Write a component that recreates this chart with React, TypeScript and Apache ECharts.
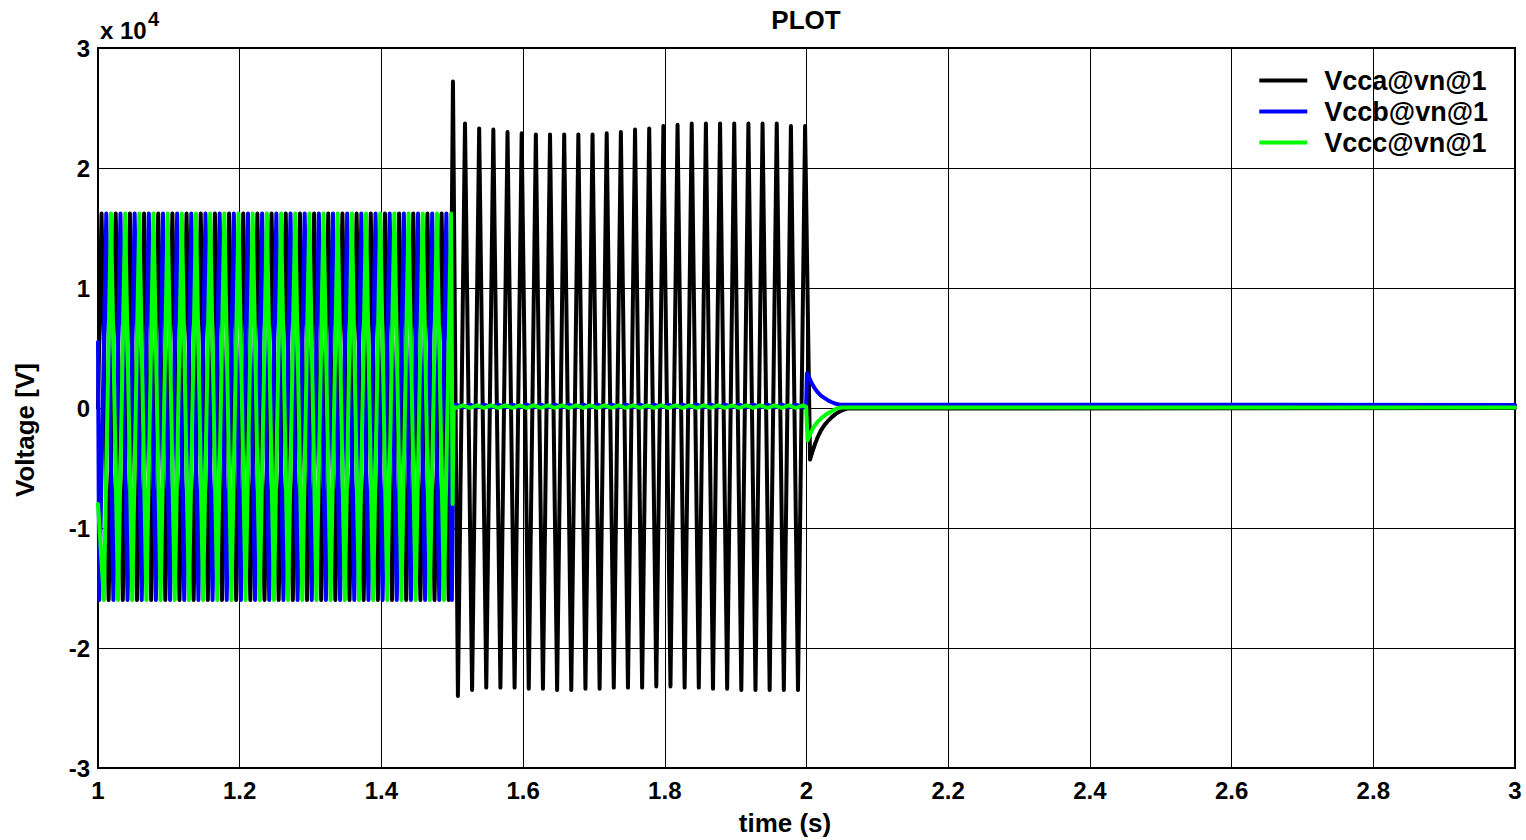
import React, { useEffect, useRef } from "react";
import * as echarts from "echarts";

// Half-cycle spacing of the 50 Hz extremes (s)
const HALF = 0.01;

// Tick labels
const xTicks = [1, 1.2, 1.4, 1.6, 1.8, 2, 2.2, 2.4, 2.6, 2.8, 3];
const yTicks = [-3, -2, -1, 0, 1, 2, 3];

const names = ["Vcca@vn@1", "Vccb@vn@1", "Vccc@vn@1"];
const colors = ["#000000", "#0000ff", "#00ff00"];

// ---- Segment 1 (1.0 – 1.5 s): clipped extremes of each phase ----
const vccaSeg1Start = 1.005;
const vccaSeg1 = [
  16200, -16000, 16200, -16000, 16200, -16000, 16200, -16000, 16200, -16000,
  16200, -16000, 16200, -16000, 16200, -16000, 16200, -16000, 16200, -16000,
  16200, -16000, 16200, -16000, 16200, -16000, 16200, -16000, 16200, -16000,
  16200, -16000, 16200, -16000, 16200, -16000, 16200, -16000, 16200, -16000,
  16200, -16000, 16200, -16000, 16200, -16000, 16200, -16000, 16200, -16000,
];
const vccbSeg1Start = 1.0017;
const vccbSeg1 = [
  -16000, 16200, -16000, 16200, -16000, 16200, -16000, 16200, -16000, 16200,
  -16000, 16200, -16000, 16200, -16000, 16200, -16000, 16200, -16000, 16200,
  -16000, 16200, -16000, 16200, -16000, 16200, -16000, 16200, -16000, 16200,
  -16000, 16200, -16000, 16200, -16000, 16200, -16000, 16200, -16000, 16200,
  -16000, 16200, -16000, 16200, -16000, 16200, -16000, 16200, -16000, 16200,
];
const vcccSeg1Start = 1.0083;
const vcccSeg1 = [
  -16000, 16200, -16000, 16200, -16000, 16200, -16000, 16200, -16000, 16200,
  -16000, 16200, -16000, 16200, -16000, 16200, -16000, 16200, -16000, 16200,
  -16000, 16200, -16000, 16200, -16000, 16200, -16000, 16200, -16000, 16200,
  -16000, 16200, -16000, 16200, -16000, 16200, -16000, 16200, -16000, 16200,
  -16000, 16200, -16000, 16200, -16000, 16200, -16000, 16200, -16000, 16200,
];

// ---- Transition points around 1.5 s ----
const vccaStart: [number, number][] = [[1.0, 0]];
const vccbStart: [number, number][] = [[1.0, 5500]];
const vcccStart: [number, number][] = [[1.0, -8000]];
const vccaAt15: [number, number][] = [[1.501, 27200]];
const vccbAt15: [number, number][] = [[1.4995, -16000], [1.5015, 200]];
const vcccAt15: [number, number][] = [[1.5005, -8000], [1.502, 100]];

// ---- Segment 2 (1.5 – 2.0 s) ----
const vccaSeg2Start = 1.508;
const vccaSeg2 = [
  -24000, 23700, -23500, 23300, -23300, 23200, -23300, 23000, -23300, 22900,
  -23400, 22800, -23400, 22800, -23500, 22800, -23500, 22800, -23400, 22800,
  -23400, 22900, -23300, 23000, -23300, 23200, -23300, 23300, -23200, 23500,
  -23200, 23600, -23300, 23700, -23300, 23700, -23400, 23700, -23400, 23700,
  -23500, 23700, -23500, 23700, -23500, 23700, -23500, 23500, -23500, 23500,
];
const rippleStart = 1.505;
const vccbSeg2 = [
  280, 60, 280, 60, 280, 60, 280, 60, 280, 60,
  280, 60, 280, 60, 280, 60, 280, 60, 280, 60,
  280, 60, 280, 60, 280, 60, 280, 60, 280, 60,
  280, 60, 280, 60, 280, 60, 280, 60, 280, 60,
  280, 60, 280, 60, 280, 60, 280, 60, 280, 60,
];
const vcccSeg2 = [
  0, 220, 0, 220, 0, 220, 0, 220, 0, 220,
  0, 220, 0, 220, 0, 220, 0, 220, 0, 220,
  0, 220, 0, 220, 0, 220, 0, 220, 0, 220,
  0, 220, 0, 220, 0, 220, 0, 220, 0, 220,
  0, 220, 0, 220, 0, 220, 0, 220, 0, 220,
];

// ---- After 2.0 s: decay to zero ----
const vccaTail: [number, number][] = [
  [2.005, -4300], [2.008, -3700], [2.012, -3000], [2.016, -2400], [2.02, -1900],
  [2.025, -1450], [2.03, -1100], [2.035, -800], [2.04, -550], [2.045, -350],
  [2.05, -200], [2.057, -50], [3.0, 0],
];
const vccbTail: [number, number][] = [
  [1.9995, 250], [2.0005, 2900], [2.004, 2500], [2.008, 2000], [2.012, 1600],
  [2.016, 1300], [2.02, 1050], [2.025, 850], [2.03, 650], [2.035, 500],
  [2.04, 380], [2.047, 280], [3.0, 250],
];
const vcccTail: [number, number][] = [
  [1.9995, 100], [2.0015, -2700], [2.005, -2200], [2.01, -1600], [2.015, -1200],
  [2.02, -900], [2.025, -650], [2.03, -450], [2.035, -300], [2.04, -120],
  [2.045, 0], [2.05, 40], [3.0, 50],
];

function extremes(t0: number, values: number[]): [number, number][] {
  return values.map((v, i) => [+(t0 + HALF * i).toFixed(4), v]);
}

const vccaData = [
  ...vccaStart,
  ...extremes(vccaSeg1Start, vccaSeg1),
  ...vccaAt15,
  ...extremes(vccaSeg2Start, vccaSeg2),
  ...vccaTail,
];
const vccbData = [
  ...vccbStart,
  ...extremes(vccbSeg1Start, vccbSeg1),
  ...vccbAt15,
  ...extremes(rippleStart, vccbSeg2),
  ...vccbTail,
];
const vcccData = [
  ...vcccStart,
  ...extremes(vcccSeg1Start, vcccSeg1),
  ...vcccAt15,
  ...extremes(rippleStart, vcccSeg2),
  ...vcccTail,
];
const seriesData = [vccaData, vccbData, vcccData];

const FONT = "'Liberation Sans', Arial, sans-serif";

export default function App() {
  const ref = useRef<HTMLDivElement>(null);
  useEffect(() => {
    if (!ref.current) return;
    const chart = echarts.init(ref.current, null, { renderer: "svg" });
    chart.setOption({
      animation: false,
      backgroundColor: "#ffffff",
      grid: {
        left: 98,
        right: 11,
        top: 48,
        bottom: 72,
        show: true,
        borderColor: "#000",
        borderWidth: 2,
        backgroundColor: "transparent",
      },
      xAxis: {
        type: "value",
        min: xTicks[0],
        max: xTicks[xTicks.length - 1],
        interval: 0.2,
        axisLine: { show: false },
        axisTick: { show: false },
        splitLine: { show: true, lineStyle: { color: "#000", width: 1 } },
        axisLabel: {
          color: "#000",
          fontFamily: FONT,
          fontWeight: "bold",
          fontSize: 24,
          margin: 10,
          formatter: (v: number) => String(+v.toFixed(1)),
        },
      },
      yAxis: {
        type: "value",
        min: yTicks[0] * 10000,
        max: yTicks[yTicks.length - 1] * 10000,
        interval: 10000,
        axisLine: { show: false },
        axisTick: { show: false },
        splitLine: { show: true, lineStyle: { color: "#000", width: 1 } },
        axisLabel: {
          color: "#000",
          fontFamily: FONT,
          fontWeight: "bold",
          fontSize: 24,
          margin: 8,
          formatter: (v: number) => String(Math.round(v / 10000)),
        },
      },
      legend: {
        orient: "vertical",
        right: 33,
        top: 62,
        icon: "rect",
        itemWidth: 48,
        itemHeight: 4,
        itemGap: 4,
        textStyle: {
          color: "#000",
          fontFamily: FONT,
          fontWeight: "bold",
          fontSize: 27,
          lineHeight: 27,
          padding: [0, 0, 0, 12],
        },
        data: names,
      },
      graphic: [
        {
          type: "text",
          x: 806,
          y: 20,
          style: {
            text: "PLOT",
            fill: "#000",
            font: `bold 26px ${FONT}`,
            align: "center",
            verticalAlign: "middle",
          },
        },
        {
          type: "text",
          x: 785,
          y: 823,
          style: {
            text: "time (s)",
            fill: "#000",
            font: `bold 26px ${FONT}`,
            align: "center",
            verticalAlign: "middle",
          },
        },
        {
          type: "text",
          x: 25,
          y: 430,
          rotation: Math.PI / 2,
          style: {
            text: "Voltage [V]",
            fill: "#000",
            font: `bold 26px ${FONT}`,
            align: "center",
            verticalAlign: "middle",
          },
        },
        {
          type: "text",
          x: 100,
          y: 30,
          style: {
            text: "x 10",
            fill: "#000",
            font: `bold 24px ${FONT}`,
            align: "left",
            verticalAlign: "middle",
          },
        },
        {
          type: "text",
          x: 148,
          y: 19,
          style: {
            text: "4",
            fill: "#000",
            font: `bold 20px ${FONT}`,
            align: "left",
            verticalAlign: "middle",
          },
        },
      ],
      series: names.map((name, i) => ({
        name,
        type: "line",
        data: seriesData[i],
        showSymbol: false,
        symbol: "none",
        color: colors[i],
        itemStyle: { color: colors[i] },
        lineStyle: { color: colors[i], width: 4, join: "round", cap: "round" },
        emphasis: { disabled: true },
        z: 2 + i,
      })),
    });
    return () => chart.dispose();
  }, []);
  return (
    <div
      ref={ref}
      style={{ position: "fixed", left: 0, top: 0, width: 1526, height: 840 }}
    />
  );
}
